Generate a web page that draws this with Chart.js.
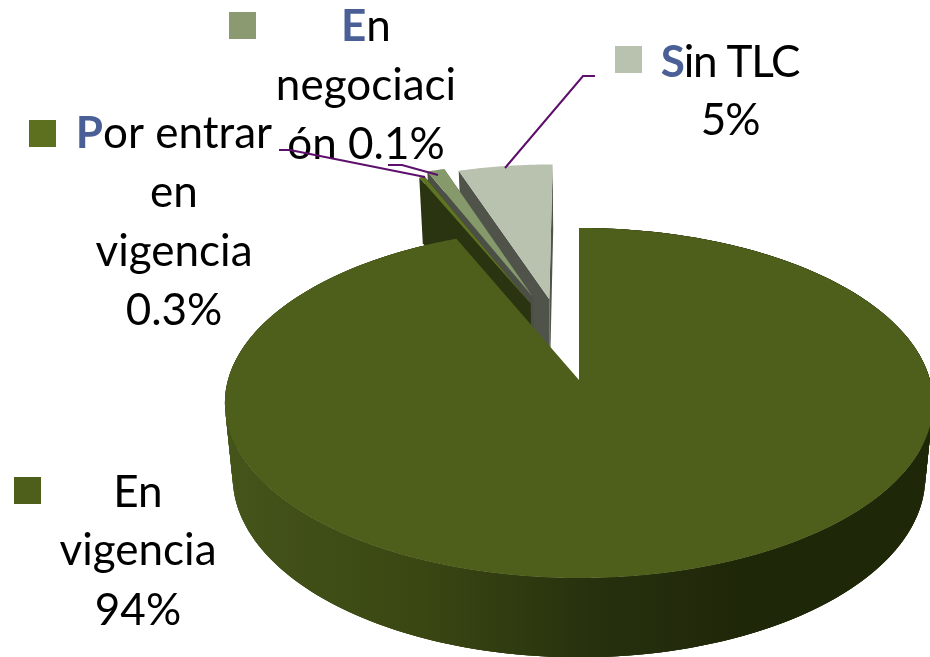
<!DOCTYPE html>
<html lang="es">
<head>
<meta charset="utf-8">
<style>html,body{margin:0;padding:0;background:#fff}canvas{display:block}</style>
<script src="https://cdn.jsdelivr.net/npm/chart.js@4"></script>
</head>
<body>
<canvas id="c" width="930" height="657"></canvas>
<script>
// Slice sizes as drawn in the picture (percent), clockwise from 12 o'clock.
const categories = ['En vigencia', 'Por entrar en vigencia', 'En negociación', 'Sin TLC'];
const sliceValues = [93.6, 0.3, 0.95, 5.15];
const labelLines = [
  ['En', 'vigencia', '94%'],
  ['Por entrar', 'en', 'vigencia', '0.3%'],
  ['En', 'negociaci', 'ón 0.1%'],
  ['Sin TLC', '5%']
];
const topColors = ['#4e5f1c', '#5e7422', '#86996b', '#b9c2ae'];
const legendColors = ['#4e5f1c', '#5c7020', '#8b9a70', '#b9c2ae'];
const wallColors = [null, '#2a3410', '#4b4f46', '#4f534a'];
// How far each slice is pulled out of the pie, as fractions of the radius
const pullX = [0, -0.147, -0.14, -0.09];
const pullY = [0, 0.473, 0.515, 0.5];

// Layout of the annotations
const labelCenters = [138, 174, 366, 730];
const labelBaselines = [[507, 565, 625], [148, 207, 266, 325], [41, 100, 159], [77, 135]];
const labelTracking = ['0px', '0px', '0px', '-1.2px'];
const swatches = [[14, 477], [29, 120], [229, 12], [615, 46]];
const leaders = [
  [[279, 150], [290, 150], [425, 177]],
  [[388, 165], [402, 165], [438, 175]],
  [[595, 76], [583, 76], [505, 168]]
];
const FONT = '"Lato", "Open Sans", sans-serif';
const FONT_SIZE = 44;

// Perspective of the tilted pie
const CX = 579, CY = 380, SX = 351, SY = 172, K = 0.1314;
const DEPTH = 73, DEPTH_K = 0.08, BASE_SCALE = 0.978;

function project(u, v, bottom) {
  const w = 1 + K * v;
  let x = CX + SX * u / w;
  let y = CY - SY * v / w;
  if (bottom) {
    x = CX + (x - CX) * BASE_SCALE;
    y += DEPTH / (1 + DEPTH_K * v);
  }
  return [x, y];
}

function tracePoly(ctx, pts) {
  ctx.beginPath();
  pts.forEach((p, i) => i ? ctx.lineTo(p[0], p[1]) : ctx.moveTo(p[0], p[1]));
  ctx.closePath();
}

const pie3d = {
  id: 'pie3d',
  beforeDatasetDraw(chart, args) {
    const ctx = chart.ctx;
    const arcs = chart.getDatasetMeta(args.index).data;
    // painter's order: far exploded slices first, the large slice last
    for (let i = arcs.length - 1; i >= 0; i--) {
      const el = arcs[i];
      const a0 = el.startAngle + Math.PI / 2, a1 = el.endAngle + Math.PI / 2;
      const ou = pullX[i], ov = pullY[i];
      const n = Math.max(4, Math.ceil((a1 - a0) / 0.01));
      const rim = [];
      for (let j = 0; j <= n; j++) {
        const t = a0 + (a1 - a0) * j / n;
        rim.push([Math.sin(t) + ou, Math.cos(t) + ov]);
      }
      const topRim = rim.map(p => project(p[0], p[1], false));
      const botRim = rim.map(p => project(p[0], p[1], true));
      const apexT = project(ou, ov, false), apexB = project(ou, ov, true);
      ctx.save();
      if (wallColors[i]) {
        ctx.fillStyle = wallColors[i];
        tracePoly(ctx, [apexT, topRim[0], botRim[0], apexB]); ctx.fill();
        tracePoly(ctx, [apexT, topRim[n], botRim[n], apexB]); ctx.fill();
      } else {
        const g = ctx.createLinearGradient(224, 0, 932, 0);
        g.addColorStop(0, '#45551a');
        g.addColorStop(0.14, '#3f4d16');
        g.addColorStop(0.28, '#3a4713');
        g.addColorStop(0.52, '#27310e');
        g.addColorStop(0.72, '#1f2709');
        g.addColorStop(1, '#1f2709');
        ctx.fillStyle = g;
        // overlapping strips so that no seams show between them
        for (let j = 0; j < n; j++) {
          const e = Math.min(n, j + 3);
          tracePoly(ctx, [topRim[j], topRim[e], botRim[e], botRim[j]]);
          ctx.fill();
        }
      }
      ctx.fillStyle = topColors[i];
      tracePoly(ctx, [apexT].concat(topRim)); ctx.fill();
      ctx.restore();
    }
    return false;
  },
  afterDatasetsDraw(chart) {
    const ctx = chart.ctx;
    ctx.save();
    // swatches
    swatches.forEach((s, i) => { ctx.fillStyle = legendColors[i]; ctx.fillRect(s[0], s[1], 27, 27); });
    // labels
    ctx.textBaseline = 'alphabetic';
    ctx.textAlign = 'left';
    labelLines.forEach((lines, i) => {
      ctx.letterSpacing = labelTracking[i];
      lines.forEach((line, j) => {
        const accent = i > 0 && j === 0;
        const head = accent ? line[0] : '';
        const tail = accent ? line.slice(1) : line;
        ctx.font = 'bold ' + FONT_SIZE + 'px ' + FONT;
        const hw = head ? ctx.measureText(head).width : 0;
        ctx.font = FONT_SIZE + 'px ' + FONT;
        const tw = ctx.measureText(tail).width;
        const x = labelCenters[i] - (hw + tw) / 2, y = labelBaselines[i][j];
        if (head) {
          ctx.font = 'bold ' + FONT_SIZE + 'px ' + FONT;
          ctx.fillStyle = '#4a5f96';
          ctx.fillText(head, x, y);
          ctx.font = FONT_SIZE + 'px ' + FONT;
        }
        ctx.fillStyle = '#000';
        ctx.fillText(tail, x + hw, y);
      });
    });
    ctx.letterSpacing = '0px';
    // leader lines
    ctx.strokeStyle = '#5c0f6b';
    ctx.lineWidth = 2;
    leaders.forEach(l => {
      ctx.beginPath();
      l.forEach((p, i) => i ? ctx.lineTo(p[0], p[1]) : ctx.moveTo(p[0], p[1]));
      ctx.stroke();
    });
    ctx.restore();
  }
};

new Chart(document.getElementById('c'), {
  type: 'pie',
  data: {
    labels: categories,
    datasets: [{ data: sliceValues, backgroundColor: topColors, borderWidth: 0 }]
  },
  options: {
    responsive: false,
    animation: false,
    plugins: { legend: { display: false }, title: { display: false }, tooltip: { enabled: false } }
  },
  plugins: [pie3d]
});
</script>
</body>
</html>
